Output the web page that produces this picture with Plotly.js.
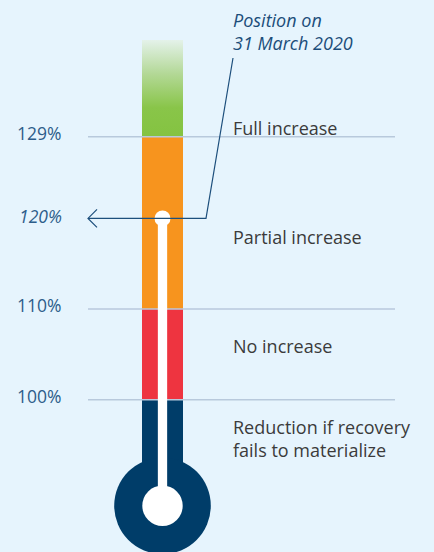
<!DOCTYPE html>
<html><head><meta charset="utf-8">
<script src="https://cdn.plot.ly/plotly-3.0.1.min.js"></script>
<style>html,body{margin:0;padding:0;background:#e6f4fd;}#chart{width:434px;height:552px;}</style>
</head><body><div id="chart"></div>
<script>
// ---- data ----
const thresholds = [100, 110, 129];
const thresholdLabels = ['100%', '110%', '129%'];
const zoneNames = ['Reduction if recovery<br>fails to materialize', 'No increase', 'Partial increase', 'Full increase'];
const zoneLow = [88.3, 100, 110, 129];
const zoneHigh = [100, 110, 129, 139.7];
const position = 120;
const positionLabel = '120%';
const positionNote = 'Position on<br>31 March 2020';

// ---- layout / style ----
const zoneColors = ['#003d69', '#ee3440', '#f7941e', '#84c341'];
const zoneLabelY = [95.7, 105.9, 118.0, 130.0];
const W = 434, H = 552;
const yMin = 83.2, yMax = 144.1;
const ppu = H / (yMax - yMin);
const cx = 162.5, barW = 41;
const bulbY = zoneLow[0];
const bg = '#e6f4fd';
const font = 'Open Sans, Lato, sans-serif';

const traces = [];
for (let i = 0; i < 3; i++) {
  traces.push({type: 'bar', x: [cx], base: [zoneLow[i]], y: [zoneHigh[i] - zoneLow[i]], width: [barW],
    marker: {color: zoneColors[i], line: {width: 0}}, hoverinfo: 'skip'});
}
// green gradient zone
traces.push({type: 'scatter', mode: 'none', fill: 'toself',
  x: [cx - barW/2, cx + barW/2, cx + barW/2, cx - barW/2, cx - barW/2],
  y: [zoneLow[3], zoneLow[3], zoneHigh[3], zoneHigh[3], zoneLow[3]],
  fillgradient: {type: 'vertical', start: zoneLow[3], stop: zoneHigh[3],
    colorscale: [[0, '#84c341'], [0.3, '#89c549'], [0.65, '#b3d896'], [1, '#e4f2ea']]},
  hoverinfo: 'skip'});
// grid lines
thresholds.forEach(t => traces.push({type: 'scatter', mode: 'lines', x: [88, 395], y: [t, t],
  line: {color: '#b8c9dc', width: 1.5}, hoverinfo: 'skip'}));
// bulb
traces.push({type: 'scatter', mode: 'markers', x: [cx], y: [bulbY], cliponaxis: false,
  marker: {color: zoneColors[0], size: 96.6, opacity: 1, line: {width: 0}}, hoverinfo: 'skip'});
// stem & marker
traces.push({type: 'scatter', mode: 'lines', x: [cx, cx], y: [position, bulbY],
  line: {color: '#ffffff', width: 9.3}, hoverinfo: 'skip'});
traces.push({type: 'scatter', mode: 'markers', x: [cx, cx], y: [position, bulbY],
  marker: {color: '#ffffff', size: [16, 40.4], opacity: 1, line: {width: 0}}, hoverinfo: 'skip'});
// leader + arrow
const noteX = 233;
traces.push({type: 'scatter', mode: 'lines', x: [noteX, 206, 88], y: [yMax - 58/ppu, position, position],
  line: {color: '#1d4f7c', width: 1.2}, hoverinfo: 'skip'});
traces.push({type: 'scatter', mode: 'lines', x: [97, 88, 97], y: [position + 9/ppu, position, position - 9/ppu],
  line: {color: '#1d4f7c', width: 1.2}, hoverinfo: 'skip'});

const annotations = [];
const pctFont = {family: font, size: 17.5, color: '#2d5d8a'};
thresholds.forEach((t, i) => annotations.push({x: 64, y: t, xref: 'x', yref: 'y', text: thresholdLabels[i],
  showarrow: false, xanchor: 'right', yanchor: 'middle', yshift: 4, font: pctFont}));
annotations.push({x: 64, y: position, xref: 'x', yref: 'y', text: '<i>' + positionLabel + '</i>',
  showarrow: false, xanchor: 'right', yanchor: 'middle', yshift: 2, font: pctFont});
zoneNames.forEach((n, i) => annotations.push({x: noteX, y: zoneLabelY[i], xref: 'x', yref: 'y', text: n,
  showarrow: false, xanchor: 'left', yanchor: 'middle', align: 'left', xshift: -2,
  font: {family: font, size: 18, color: '#3b3b3b'}}));
annotations.push({x: noteX, y: yMax - 31.5/ppu, xref: 'x', yref: 'y',
  text: positionNote.split('<br>').map(s => '<i>' + s + '</i>').join('<br>'),
  showarrow: false, xanchor: 'left', yanchor: 'middle', align: 'left', xshift: -2,
  font: {family: font, size: 18, color: '#1b4d7a'}});

Plotly.newPlot('chart', traces, {
  width: W, height: H, margin: {l: 0, r: 0, t: 0, b: 0},
  paper_bgcolor: bg, plot_bgcolor: bg, showlegend: false, barmode: 'overlay',
  xaxis: {range: [0, W], visible: false, fixedrange: true},
  yaxis: {range: [yMin, yMax], visible: false, fixedrange: true},
  annotations: annotations
}, {staticPlot: true});
</script></body></html>
